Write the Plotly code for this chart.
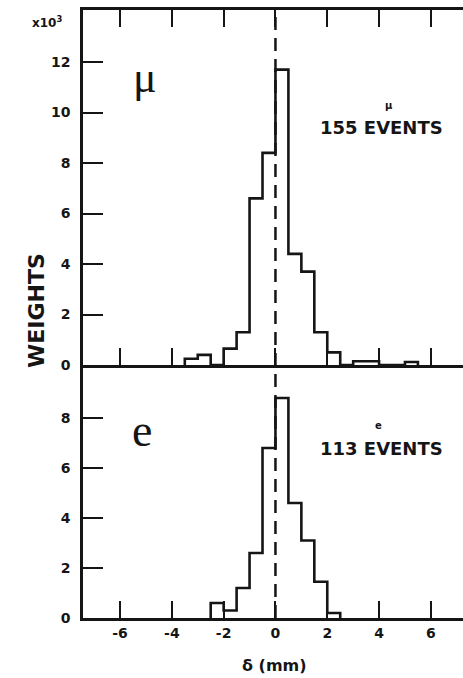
import plotly.graph_objects as go

# Bin edges (mm) and weights (x10^3)
mu_edges = [-3.5, -3.0, -2.5, -2.0, -1.5, -1.0, -0.5, 0.0, 0.5, 1.0, 1.5, 2.0, 2.5, 3.0, 3.5, 4.0, 4.5, 5.0, 5.5]
mu_weights = [0.25, 0.4, 0.0, 0.65, 1.3, 6.6, 8.4, 11.7, 4.4, 3.7, 1.3, 0.5, 0.0, 0.15, 0.15, 0.0, 0.0, 0.12]

e_edges = [-2.5, -2.0, -1.5, -1.0, -0.5, 0.0, 0.5, 1.0, 1.5, 2.0, 2.5]
e_weights = [0.6, 0.3, 1.2, 2.6, 6.8, 8.8, 4.6, 3.1, 1.45, 0.2]

x_ticks = [-6, -4, -2, 0, 2, 4, 6]
x_ticktext = ["-6", "-4", "-2", "0", "2", "4", "6"]
mu_yticks = [0, 2, 4, 6, 8, 10, 12]
e_yticks = [0, 2, 4, 6, 8]

INK = "#151515"
TICKFONT = dict(family="DejaVu Sans", size=14, color=INK, weight="bold")


def step_xy(edges, vals):
    xs = [edges[0]] + list(edges)
    ys = [0] + list(vals) + [0]
    return xs, ys


fig = go.Figure()
mx, my = step_xy(mu_edges, mu_weights)
fig.add_trace(go.Scatter(x=mx, y=my, mode="lines", line=dict(shape="hv", color=INK, width=2.6),
                         xaxis="x", yaxis="y", showlegend=False, hoverinfo="skip"))
ex, ey = step_xy(e_edges, e_weights)
fig.add_trace(go.Scatter(x=ex, y=ey, mode="lines", line=dict(shape="hv", color=INK, width=2.6),
                         xaxis="x2", yaxis="y2", showlegend=False, hoverinfo="skip"))

split = 0.4161
axis_common = dict(showgrid=False, zeroline=False, showline=True, linecolor=INK, linewidth=2.5,
                   ticks="inside", tickcolor=INK, tickwidth=2, tickfont=TICKFONT)

fig.update_layout(
    width=463, height=678,
    margin=dict(l=83, r=0, t=10, b=60),
    paper_bgcolor="white", plot_bgcolor="white",
    xaxis=dict(domain=[0, 1], range=[-7.43, 7.24], anchor="y", tickvals=x_ticks,
               showticklabels=False, ticklen=17, mirror="ticks", **axis_common),
    yaxis=dict(domain=[split, 1], range=[0, 14.06], anchor="x", tickvals=mu_yticks,
               ticklen=20, ticklabelstandoff=7, **axis_common),
    xaxis2=dict(domain=[0, 1], range=[-7.43, 7.24], anchor="y2", tickvals=x_ticks,
                ticktext=x_ticktext, ticklen=17, **axis_common),
    yaxis2=dict(domain=[0, split], range=[0, 10.12], anchor="x2", tickvals=e_yticks,
                ticklen=20, ticklabelstandoff=7, **axis_common),
)

# dashed line at delta = 0 spanning both panels
fig.add_shape(type="line", xref="x", yref="paper", x0=0, x1=0, y0=0, y1=1,
              line=dict(color=INK, width=2.5, dash="13px,8px"), layer="above")

ann = []
ann.append(dict(text="μ", x=145, y=78, font=dict(family="Liberation Serif", size=44, color=INK)))
ann.append(dict(text="e", x=142, y=430, font=dict(family="Liberation Serif", size=46, color=INK)))
ann.append(dict(text="μ", x=389, y=105, font=dict(family="DejaVu Sans", size=10, color=INK, weight="bold")))
ann.append(dict(text="155 EVENTS", x=381, y=127, font=dict(family="DejaVu Sans", size=18, color=INK, weight="bold")))
ann.append(dict(text="e", x=378, y=425, font=dict(family="DejaVu Sans", size=10, color=INK, weight="bold")))
ann.append(dict(text="113 EVENTS", x=381, y=448, font=dict(family="DejaVu Sans", size=18, color=INK, weight="bold")))
ann.append(dict(text="x10<sup>3</sup>", x=47, y=22, font=dict(family="DejaVu Sans", size=12, color=INK, weight="bold")))
ann.append(dict(text="δ (mm)", x=274, y=665, font=dict(family="DejaVu Sans", size=16, color=INK, weight="bold")))
ann.append(dict(text="WEIGHTS", x=36, y=311, textangle=-90,
                font=dict(family="DejaVu Sans", size=22, color=INK, weight="bold")))

for a in ann:
    x_px, y_px = a.pop("x"), a.pop("y")
    fig.add_annotation(xref="paper", yref="paper", showarrow=False,
                       x=(x_px - 83) / 380.0, y=(618 - y_px) / 608.0,
                       xanchor="center", yanchor="middle", **a)

fig.write_html("out.html", config={"displayModeBar": False},
               post_script="document.body.style.margin='0px';document.body.style.overflow='hidden';")
